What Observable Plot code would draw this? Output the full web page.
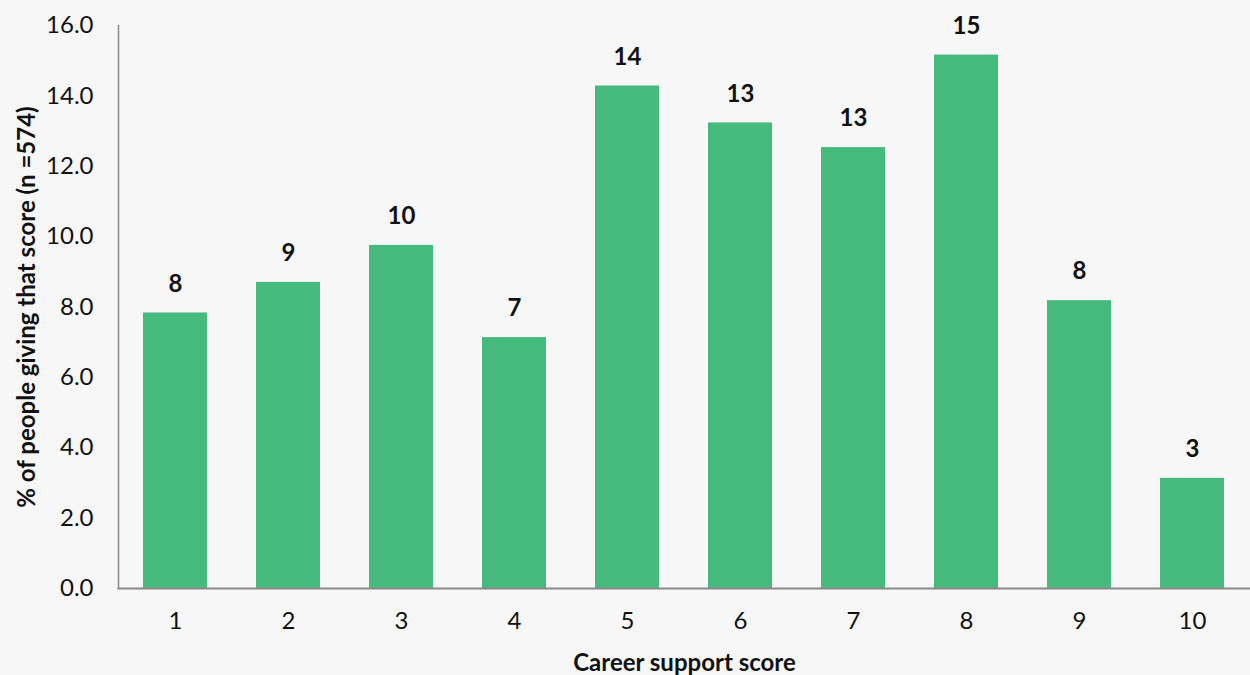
<!DOCTYPE html>
<html>
<head>
<meta charset="utf-8">
<script src="https://cdn.jsdelivr.net/npm/d3@7"></script>
<script src="https://cdn.jsdelivr.net/npm/@observablehq/plot@0.6"></script>
<style>
  html, body { margin: 0; padding: 0; background: #f7f7f7; }
</style>
</head>
<body>
<div id="chart"></div>
<script>
const scores = ["1", "2", "3", "4", "5", "6", "7", "8", "9", "10"];
const percents = [7.83, 8.70, 9.75, 7.13, 14.28, 13.23, 12.53, 15.16, 8.18, 3.13];
const yTicks = [0, 2, 4, 6, 8, 10, 12, 14, 16];
const xTitle = "Career support score";
const yTitle = "% of people giving that score (n =574)";

const data = scores.map((s, i) => ({score: s, pct: percents[i]}));

const chart = Plot.plot({
  width: 1250,
  height: 675,
  marginLeft: 118,
  marginRight: 0,
  marginTop: 25,
  marginBottom: 87,
  style: {background: "#f7f7f7", fontFamily: "Lato, sans-serif", fontSize: "24px", color: "#111"},
  x: {domain: scores, paddingInner: 0.43, paddingOuter: 0.215, label: null},
  y: {domain: [0, 16], label: null},
  marks: [
    Plot.barY(data, {x: "score", y: "pct", fill: "#46b97c"}),
    Plot.frame({anchor: "left", stroke: "#898989", strokeWidth: 1.5}),
    Plot.frame({anchor: "bottom", stroke: "#898989", strokeWidth: 2}),
    Plot.axisY({ticks: yTicks, tickFormat: d3.format(".1f"), tickSize: 0, tickPadding: 25, label: null, fontSize: 24}),
    Plot.axisX({tickSize: 0, tickPadding: 23, label: null, fontSize: 24}),
    Plot.text(data, {x: "score", y: "pct", text: d => d3.format(".0f")(d.pct), dy: -29, fontWeight: "bold", fontSize: 24, fill: "#111"}),
    Plot.text([xTitle], {frameAnchor: "bottom", dy: 82, fontWeight: "bold", fontSize: 24, fill: "#111"}),
    Plot.text([yTitle], {frameAnchor: "left", textAnchor: "middle", dx: -91, rotate: -90, fontWeight: "bold", fontSize: 24, fill: "#111"})
  ]
});
document.getElementById("chart").appendChild(chart);
</script>
</body>
</html>
